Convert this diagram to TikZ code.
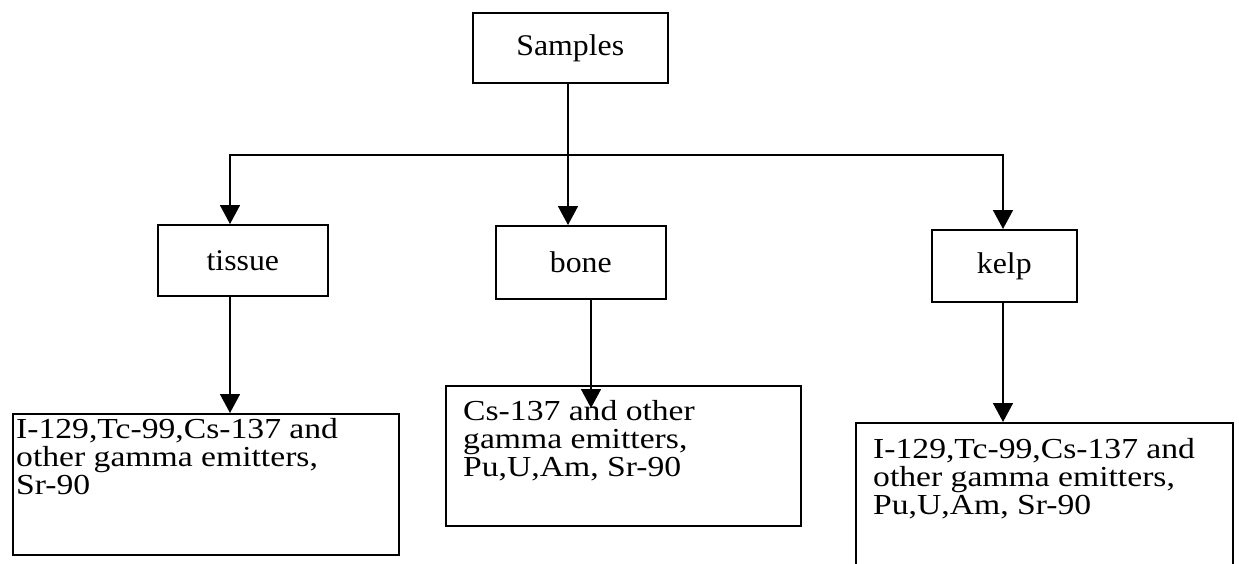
\documentclass[tikz,border=0pt]{standalone}
\usepackage{fontspec}
\setmainfont{Liberation Serif}
\newfontfamily\topf{Liberation Serif}[FakeStretch=1.06]
\newfontfamily\botf{Liberation Serif}[FakeStretch=1.16]
\usetikzlibrary{arrows.meta}
\begin{document}
\begin{tikzpicture}[x=1pt,y=-1pt,
  box/.style={draw,line width=1.6pt,rectangle,inner sep=0pt,anchor=north west},
  lbl/.style={box,font=\topf\fontsize{30}{30}\selectfont},
  restext/.style={anchor=north west,inner sep=0pt,align=left,font=\botf\fontsize{29}{28}\selectfont},
  conn/.style={line width=1.6pt},
  arr/.style={conn,-{Triangle[width=20pt,length=19pt]}}]
\path[use as bounding box,clip] (0,0) rectangle (1239,563);
\fill[white] (0,0) rectangle (1239,563);

% top and middle boxes
\node[lbl,minimum width=195pt,minimum height=70pt] (samples) at (472,12) {Samples};
\node[lbl,minimum width=170pt,minimum height=71pt] (tissue) at (157,224) {tissue};
\node[lbl,minimum width=170pt,minimum height=73pt] (bone) at (495,225) {bone};
\node[lbl,minimum width=145pt,minimum height=72pt] (kelp) at (931,229) {kelp};

% result boxes
\node[box,minimum width=386pt,minimum height=141pt] (res1) at (12,413) {};
\node[box,minimum width=355pt,minimum height=140pt] (res2) at (445,385) {};
\node[box,minimum width=377pt,minimum height=170pt] (res3) at (855,422) {};

\node[restext] (t1) at (16,418) {I-129,Tc-99,Cs-137 and\\other gamma emitters,\\Sr-90};
\node[restext] (t2) at (463,400) {Cs-137 and other\\gamma emitters,\\Pu,U,Am, Sr-90};
\node[restext] (t3) at (873,438) {I-129,Tc-99,Cs-137 and\\other gamma emitters,\\Pu,U,Am, Sr-90};

% connectors
\coordinate (sv) at (568,0);
\coordinate (hl) at (230,155);
\coordinate (hr) at (1003,155);
\coordinate (bt) at (591,408);
\draw[arr] (samples.south -| sv) -- (sv |- bone.north);
\draw[arr] (sv |- hl) -- (hl) -- (hl |- tissue.north);
\draw[arr] (sv |- hl) -- (hr) -- (hr |- kelp.north);
\draw[arr] (tissue.south -| hl) -- (hl |- res1.north);
\draw[arr] (bone.south -| bt) -- (bt);
\draw[arr] (kelp.south -| hr) -- (hr |- res3.north);
\end{tikzpicture}
\end{document}
